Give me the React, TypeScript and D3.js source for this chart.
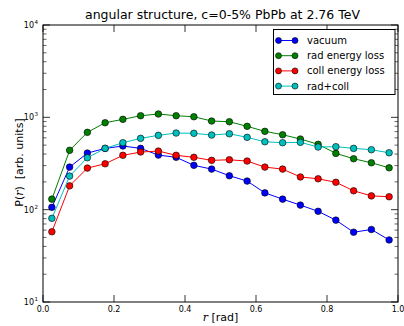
import React from "react";
import * as d3 from "d3";

const rValues = [0.025, 0.075, 0.125, 0.175, 0.225, 0.275, 0.325, 0.375, 0.425, 0.475, 0.525, 0.575, 0.625, 0.675, 0.725, 0.775, 0.825, 0.875, 0.925, 0.975];
const vacuum = [106, 289, 410, 461, 489, 461, 390, 369, 302, 275, 233, 204, 152, 130, 112, 96, 77, 57, 61, 47];
const radLoss = [130, 439, 688, 874, 951, 1041, 1086, 1041, 1015, 912, 896, 799, 705, 648, 582, 510, 407, 356, 322, 284];
const collLoss = [57.6, 181, 282, 314, 388, 421, 431, 388, 369, 342, 347, 336, 289, 275, 226, 216, 198, 160, 141, 138];
const radColl = [80.5, 231, 365, 461, 531, 592, 638, 676, 671, 643, 664, 607, 544, 531, 536, 477, 481, 461, 446, 413];
const seriesNames = ["vacuum", "rad energy loss", "coll energy loss", "rad+coll"];
const seriesColors = ["#0000ff", "#008000", "#ff0000", "#00bfbf"];
const xTicks = [0.0, 0.2, 0.4, 0.6, 0.8, 1.0];
const yDecades = [1, 2, 3, 4];

export default function App() {
  const W = 404, H = 326;
  const L = 43, R = 398, T = 25, B = 302;
  const x = d3.scaleLinear().domain([0, 1]).range([L, R]);
  const y = d3.scaleLog().domain([10, 10000]).range([B, T]);
  const allSeries = [vacuum, radLoss, collLoss, radColl];
  const line = d3.line<number>().x((_, i) => x(rValues[i])).y((d) => y(d));
  const minorY: number[] = [];
  for (let e = 1; e < 4; e++) for (let k = 2; k <= 9; k++) minorY.push(k * Math.pow(10, e));
  const font = "DejaVu Sans, sans-serif";
  const legX = 273.5, legY = 29.5, legW = 121.5, legH = 65;
  return (
    <svg width={W} height={H} style={{ position: "absolute", left: 0, top: 0 }} fontFamily={font}>
      <rect width={W} height={H} fill="#fff" />
      <text x={(L + R) / 2 + 2} y={19} textAnchor="middle" fontSize={12.5}>angular structure, c=0-5% PbPb at 2.76 TeV</text>
      {allSeries.map((s, si) => (
        <g key={si}>
          <path d={line(s) || ""} fill="none" stroke={seriesColors[si]} strokeWidth={1} />
          {s.map((v, i) => (
            <circle key={i} cx={x(rValues[i])} cy={y(v)} r={3.3} fill={seriesColors[si]} stroke="#000" strokeWidth={0.6} />
          ))}
        </g>
      ))}
      <rect x={L} y={T} width={R - L} height={B - T} fill="none" stroke="#000" strokeWidth={1} />
      {xTicks.map((t, i) => (
        <g key={i}>
          <line x1={x(t)} x2={x(t)} y1={B} y2={B - 7} stroke="#000" strokeWidth={0.8} />
          <line x1={x(t)} x2={x(t)} y1={T} y2={T + 7} stroke="#000" strokeWidth={0.8} />
          <text x={x(t)} y={B + 10} textAnchor="middle" fontSize={8}>{t.toFixed(1)}</text>
        </g>
      ))}
      {yDecades.map((e) => (
        <g key={e}>
          <line x1={L} x2={L + 7} y1={y(Math.pow(10, e))} y2={y(Math.pow(10, e))} stroke="#000" strokeWidth={0.8} />
          <line x1={R} x2={R - 7} y1={y(Math.pow(10, e))} y2={y(Math.pow(10, e))} stroke="#000" strokeWidth={0.8} />
          <text x={L - 9} y={y(Math.pow(10, e)) + 3} textAnchor="end" fontSize={8}>10</text>
          <text x={L - 8.5} y={y(Math.pow(10, e)) - 1} textAnchor="start" fontSize={5.5}>{e}</text>
        </g>
      ))}
      {minorY.map((v, i) => (
        <g key={i}>
          <line x1={L} x2={L + 3.5} y1={y(v)} y2={y(v)} stroke="#000" strokeWidth={0.6} />
          <line x1={R} x2={R - 3.5} y1={y(v)} y2={y(v)} stroke="#000" strokeWidth={0.6} />
        </g>
      ))}
      <text x={(L + R) / 2} y={321} textAnchor="middle" fontSize={11}>
        <tspan fontStyle="italic" fontFamily="DejaVu Serif, serif">r</tspan> [rad]
      </text>
      <text transform={`translate(22.5, 162.5) rotate(-90)`} textAnchor="middle" fontSize={11} style={{ whiteSpace: "pre" }}>
        P(<tspan fontStyle="italic" fontFamily="DejaVu Serif, serif">r</tspan>){"\u00a0\u00a0"}[arb. units]
      </text>
      <rect x={legX} y={legY} width={legW} height={legH} fill="#fff" stroke="#000" strokeWidth={1} />
      {seriesNames.map((n, i) => {
        const yy = legY + 11 + i * 15.2;
        return (
          <g key={i}>
            <line x1={legX + 5} x2={legX + 21.5} y1={yy} y2={yy} stroke={seriesColors[i]} strokeWidth={1} />
            <circle cx={legX + 5} cy={yy} r={3} fill={seriesColors[i]} stroke="#000" strokeWidth={0.6} />
            <circle cx={legX + 21.5} cy={yy} r={3} fill={seriesColors[i]} stroke="#000" strokeWidth={0.6} />
            <text x={legX + 33.5} y={yy + 3.5} fontSize={10}>{n}</text>
          </g>
        );
      })}
    </svg>
  );
}
